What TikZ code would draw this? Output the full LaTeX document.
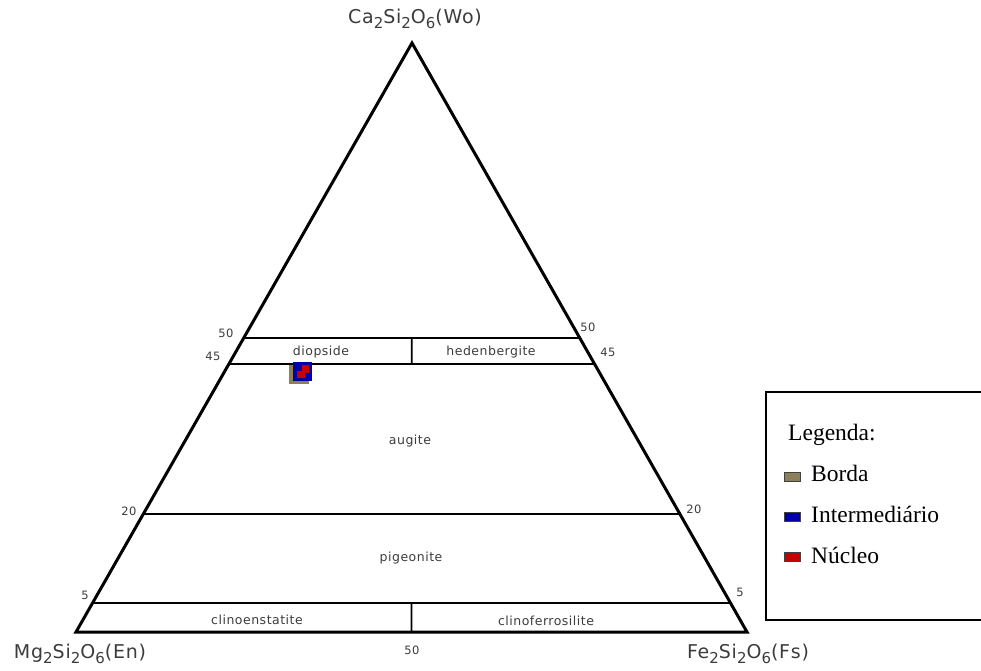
\documentclass[tikz,border=0pt]{standalone}
\usepackage{fontspec}
\setmainfont{Liberation Serif}
\newfontfamily\plotfont[LetterSpace=4]{DejaVu Sans}
\usetikzlibrary{calc}
\definecolor{bordacol}{RGB}{140,128,88}
\definecolor{intercol}{RGB}{0,0,165}
\definecolor{nucleocol}{RGB}{200,0,0}
\definecolor{labelgray}{RGB}{60,60,60}
\newcommand{\lowidx}[1]{\raisebox{-0.45ex}{\fontsize{15}{15}\selectfont #1}}
\begin{document}
\begin{tikzpicture}[x=1pt,y=-1pt]
            \tikzstyle{every node}+=[inner sep=0pt]
            \tikzstyle{field}=[font=\plotfont\fontsize{12.5}{12.5}\selectfont, text=labelgray]
            \tikzstyle{tick}=[font=\plotfont\fontsize{11.5}{11.5}\selectfont, text=labelgray]
            \tikzstyle{apex}=[font=\plotfont\fontsize{19}{19}\selectfont, text=labelgray]
            \tikzstyle{legtext}=[font=\fontsize{23.5}{23.5}\selectfont, anchor=base west]
            \tikzstyle{legkey}=[draw=black!75, line width=0.8pt, minimum width=16pt, minimum height=9pt]
            \useasboundingbox (0,0) rectangle (981,670);
            % vertices of the pyroxene triangle
            \coordinate (Wo) at (412,43);
            \coordinate (En) at (76,632);
            \coordinate (Fs) at (747,632);
            \draw [black, line width=3pt, line join=miter] (En) -- (Wo) -- (Fs) -- cycle;
            % limits of the fields
            \coordinate (l50) at ($(En)!0.5!(Wo)$);
            \coordinate (r50) at ($(Fs)!0.5!(Wo)$);
            \coordinate (l45) at ($(En)!0.455!(Wo)$);
            \coordinate (r45) at ($(Fs)!0.455!(Wo)$);
            \coordinate (l20) at ($(En)!0.2!(Wo)$);
            \coordinate (r20) at ($(Fs)!0.2!(Wo)$);
            \coordinate (l5) at ($(En)!0.05!(Wo)$);
            \coordinate (r5) at ($(Fs)!0.05!(Wo)$);
            \draw [black, line width=2pt] (l50) -- (r50);
            \draw [black, line width=2pt] (l45) -- (r45);
            \draw [black, line width=2pt] (l20) -- (r20);
            \draw [black, line width=2pt] (l5) -- (r5);
            \draw [black, line width=1.8pt] ($(l50)!0.5!(r50)$) -- ($(l45)!0.5!(r45)$);
            \draw [black, line width=1.8pt] ($(l5)!0.5!(r5)$) -- ($(En)!0.5!(Fs)$);
            % end members
            \node [apex] (woLabel) at (415,19) {Ca\lowidx{2}Si\lowidx{2}O\lowidx{6}(Wo)};
            \node [apex] (enLabel) at (80,654) {Mg\lowidx{2}Si\lowidx{2}O\lowidx{6}(En)};
            \node [apex] (fsLabel) at (748,654) {Fe\lowidx{2}Si\lowidx{2}O\lowidx{6}(Fs)};
            % field names
            \node [field] (diopside) at (321,352) {diopside};
            \node [field] (hedenbergite) at (491,352) {hedenbergite};
            \node [field] (augite) at (410,441) {augite};
            \node [field] (pigeonite) at (411,558) {pigeonite};
            \node [field] (clinoen) at (257,620) {clinoenstatite};
            \node [field] (clinofs) at (546,621) {clinoferrosilite};
            % scale values
            \node [tick] (t50l) at (226,333) {50};
            \node [tick] (t45l) at (213,356) {45};
            \node [tick] (t50r) at (588,327) {50};
            \node [tick] (t45r) at (608,352) {45};
            \node [tick] (t20l) at (129,511) {20};
            \node [tick] (t20r) at (694,509) {20};
            \node [tick] (t5l) at (85,595) {5};
            \node [tick] (t5r) at (740,592) {5};
            \node [tick] (t50b) at (412,650) {50};
            % analyses
            \fill [bordacol] (289,365) rectangle (309,384);
            \fill [intercol] (293,362) rectangle (312,381);
            \fill [nucleocol] (302,365) rectangle (309,373);
            \fill [nucleocol] (297,371) rectangle (305,378);
            % legend
            \draw [black, line width=1.3pt] (995,392) -- (766,392) -- (766,620) -- (995,620);
            \node [legtext] (legTitle) at (788,440) {Legenda:};
            \node [legkey, fill=bordacol] (kBorda) at (792,477) {};
            \node [legtext] (tBorda) at (811,481) {Borda};
            \node [legkey, fill=intercol] (kInter) at (792,517) {};
            \node [legtext] (tInter) at (811,522) {Intermediário};
            \node [legkey, fill=nucleocol] (kNucleo) at (792,557) {};
            \node [legtext] (tNucleo) at (811,563) {Núcleo};
        \end{tikzpicture}
\end{document}
